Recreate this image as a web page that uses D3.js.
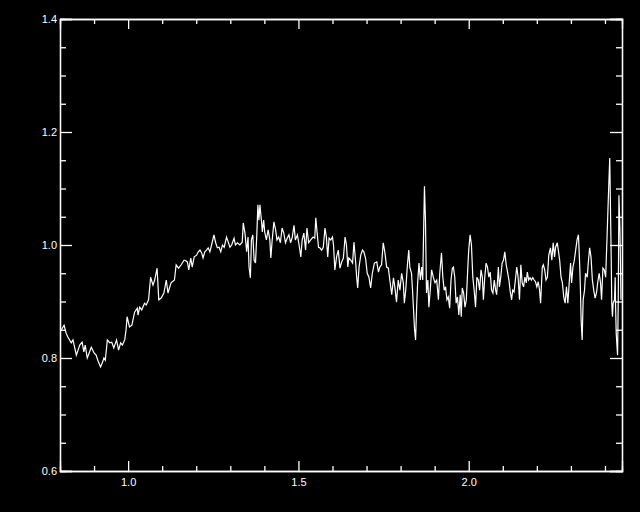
<!DOCTYPE html>
<html>
<head>
    <meta charset="utf-8">
    <script src="https://d3js.org/d3.v7.min.js"></script>
    <style>
        body {
            margin: 0;
            background: black;
        }
        svg {
            display: block;
        }
    </style>
</head>
<body>
    <svg width="640" height="512"></svg>

<script>

    // wavelength (x) and normalised flux (y)
    let wavelength = [
        0.804, 0.812, 0.818, 0.823, 0.833, 0.838, 0.843, 0.848, 0.853, 0.858,
        0.865, 0.870, 0.874, 0.880, 0.887, 0.892, 0.900, 0.906, 0.911, 0.919,
        0.924, 0.929, 0.933, 0.939, 0.946, 0.952, 0.958, 0.966, 0.972, 0.978,
        0.983, 0.990, 0.994, 0.997, 1.004, 1.011, 1.019, 1.027, 1.029, 1.034,
        1.040, 1.048, 1.053, 1.060, 1.066, 1.073, 1.078, 1.085, 1.090, 1.097,
        1.105, 1.112, 1.117, 1.126, 1.136, 1.141, 1.148, 1.156, 1.164,
        1.167, 1.174, 1.178, 1.184, 1.188, 1.194, 1.201, 1.206, 1.211, 1.216,
        1.220, 1.225, 1.230, 1.235, 1.240, 1.245, 1.252, 1.257, 1.262, 1.267,
        1.272, 1.277, 1.282, 1.289, 1.294, 1.299, 1.304, 1.311, 1.315, 1.321,
        1.328, 1.335, 1.338, 1.343, 1.348, 1.352, 1.355, 1.359, 1.362, 1.366,
        1.370, 1.374, 1.378, 1.381, 1.384, 1.387, 1.392, 1.394, 1.398, 1.401,
        1.406, 1.411, 1.416, 1.419, 1.423, 1.428, 1.433, 1.437, 1.442, 1.447,
        1.452, 1.457, 1.462, 1.467, 1.472, 1.477, 1.482, 1.487, 1.491, 1.497,
        1.502, 1.507, 1.511, 1.516, 1.521, 1.525, 1.530, 1.536, 1.543, 1.548,
        1.551, 1.555, 1.559, 1.563, 1.568, 1.573, 1.578, 1.582, 1.586, 1.590,
        1.595, 1.600, 1.603, 1.607, 1.612, 1.617, 1.622, 1.627, 1.632, 1.637,
        1.641, 1.645, 1.648, 1.654, 1.659, 1.663, 1.668, 1.671, 1.674, 1.678,
        1.683, 1.688, 1.692, 1.697, 1.702, 1.707, 1.712, 1.717, 1.723, 1.730,
        1.735, 1.739, 1.744, 1.749, 1.754, 1.759, 1.764, 1.769, 1.774, 1.779,
        1.783, 1.788, 1.793, 1.798, 1.803, 1.808, 1.811, 1.815, 1.820, 1.824,
        1.827, 1.832, 1.835, 1.838, 1.841, 1.844, 1.847, 1.850, 1.854, 1.858,
        1.862, 1.865, 1.870, 1.873, 1.876, 1.880, 1.883, 1.887, 1.891, 1.896,
        1.901, 1.906, 1.911, 1.915, 1.920,
        1.924, 1.928, 1.932, 1.936, 1.940, 1.944, 1.948, 1.952, 1.955, 1.959,
        1.963, 1.967, 1.971, 1.975, 1.978, 1.981, 1.985, 1.989, 1.993, 1.997,
        2.000, 2.004, 2.008, 2.012, 2.016, 2.020, 2.024, 2.028, 2.032, 2.036,
        2.040, 2.043, 2.047, 2.051, 2.055, 2.059, 2.063, 2.067, 2.071, 2.075,
        2.079, 2.082, 2.087, 2.090, 2.094, 2.098, 2.102, 2.106, 2.110, 2.114,
        2.118, 2.122, 2.126, 2.129, 2.133, 2.137, 2.141, 2.145, 2.149, 2.153,
        2.157, 2.161, 2.165, 2.169, 2.172, 2.176, 2.180, 2.184, 2.188, 2.192,
        2.196, 2.200, 2.204, 2.208, 2.211, 2.216, 2.219, 2.223, 2.227, 2.231,
        2.235,
        2.240, 2.244, 2.248, 2.252, 2.255, 2.260, 2.263, 2.267, 2.271, 2.275,
        2.279, 2.283, 2.287, 2.291, 2.295, 2.299, 2.302, 2.306, 2.310, 2.314,
        2.318, 2.322, 2.324, 2.326, 2.328, 2.330, 2.333, 2.336, 2.340, 2.343,
        2.348, 2.351, 2.355, 2.359, 2.363, 2.367, 2.371, 2.375, 2.379, 2.383,
        2.387, 2.390, 2.394, 2.398, 2.402, 2.406, 2.410, 2.414, 2.418, 2.420,
        2.422, 2.424, 2.428, 2.430, 2.431, 2.433, 2.436, 2.437, 2.439, 2.441,
        2.444, 2.447
    ]

    let flux = [
        0.850, 0.858, 0.844, 0.837, 0.827, 0.832, 0.819, 0.805, 0.814, 0.823,
        0.828, 0.811, 0.823, 0.800, 0.811, 0.819, 0.809, 0.805, 0.796, 0.784,
        0.791, 0.800, 0.796, 0.832, 0.827, 0.828, 0.818, 0.832, 0.814, 0.827,
        0.823, 0.832, 0.850, 0.873, 0.855, 0.858, 0.881, 0.888, 0.876, 0.890,
        0.885, 0.897, 0.894, 0.903, 0.943, 0.929, 0.938, 0.959, 0.903, 0.906,
        0.915, 0.938, 0.915, 0.933, 0.938, 0.965, 0.959, 0.965, 0.973,
        0.973, 0.970, 0.956, 0.977, 0.961, 0.979, 0.982, 0.988, 0.991, 0.986,
        0.977, 0.988, 0.991, 0.995, 0.988, 1.000, 1.018, 1.004, 0.995, 0.996,
        0.988, 1.000, 0.996, 1.014, 1.005, 0.996, 1.000, 1.012, 1.000, 1.004,
        1.000, 1.005, 1.039, 1.021, 0.988, 1.014, 0.961, 0.942, 1.009, 1.018,
        0.973, 0.968, 1.021, 1.071, 1.044, 1.071, 1.039, 1.023, 1.044, 1.023,
        1.009, 1.027, 1.009, 0.977, 1.009, 1.041, 1.027, 1.009, 1.014, 1.004,
        1.030, 1.021, 1.004, 1.012, 1.018, 1.004, 1.014, 1.035, 1.009, 1.018,
        1.000, 0.979, 1.009, 1.021, 0.991, 1.030, 1.004, 1.009, 1.014, 1.012,
        1.048, 1.021, 0.996, 0.995, 0.991, 0.996, 1.030, 1.014, 0.979, 1.012,
        1.009, 1.014, 1.000, 0.956, 0.979, 0.991, 0.959, 0.970, 0.977, 1.014,
        1.000, 0.961, 0.977, 0.973, 0.968, 1.005, 0.970, 0.943, 0.924, 0.961,
        0.982, 0.991, 0.988, 0.977, 0.950, 0.943, 0.924, 0.950, 0.968, 0.970,
        0.952, 0.961, 0.965, 1.004, 0.986, 0.961, 0.959, 0.935, 0.912, 0.942,
        0.926, 0.899, 0.938, 0.920, 0.950, 0.933, 0.897, 0.920, 0.965, 0.991,
        0.961, 0.950, 0.920, 0.885, 0.850, 0.832, 0.890, 0.933, 0.968, 0.938,
        0.961, 0.938, 1.104, 1.044, 0.915, 0.938, 0.890, 0.920, 0.956, 0.943,
        0.933, 0.938, 0.903, 0.950, 0.986,
        0.943, 0.920, 0.926, 0.903, 0.908, 0.888, 0.938, 0.959, 0.961, 0.943,
        0.897, 0.908, 0.876, 0.912, 0.873, 0.924, 0.915, 0.890, 0.903, 0.956,
        0.991, 1.018, 1.000, 0.943, 0.920, 0.890, 0.943, 0.938, 0.920, 0.956,
        0.943, 0.903, 0.942, 0.968, 0.961, 0.943, 0.952, 0.920, 0.915, 0.938,
        0.920, 0.912, 0.961, 0.926, 0.943, 0.968, 0.973, 0.988, 0.965, 0.952,
        0.938, 0.917, 0.903, 0.920, 0.917, 0.938, 0.961, 0.943, 0.903, 0.965,
        0.933, 0.926, 0.943, 0.933, 0.952, 0.938, 0.942, 0.938, 0.942, 0.938,
        0.935, 0.926, 0.935, 0.920, 0.897, 0.961, 0.965, 0.956, 0.938, 0.943,
        0.982,
        0.995, 0.973, 1.004, 0.979, 0.996, 1.004, 0.991, 0.973, 0.943, 0.933,
        0.908, 0.897, 0.926, 0.897, 0.933, 0.968, 0.933, 0.961, 0.973, 0.991,
        1.009, 1.018, 0.991, 0.961, 0.920, 0.867, 0.832, 0.903, 0.920, 0.950,
        0.943, 0.968, 0.995, 0.979, 0.938, 0.920, 0.906, 0.915, 0.935, 0.950,
        0.933, 0.903, 0.959, 0.956, 0.943, 1.012, 1.085, 1.154, 0.991, 0.897,
        0.873, 0.897, 0.903, 0.943, 0.897, 0.844, 0.814, 0.805, 0.903, 1.088,
        1.027, 0.903
    ]

    let xMajor = [1.0, 1.5, 2.0]
    let xMinor = [0.9, 1.1, 1.2, 1.3, 1.4, 1.6, 1.7, 1.8, 1.9, 2.1, 2.2, 2.3, 2.4]
    let yMajor = [0.6, 0.8, 1.0, 1.2, 1.4]
    let yMinor = [0.65, 0.7, 0.75, 0.85, 0.9, 0.95, 1.05, 1.1, 1.15, 1.25, 1.3, 1.35]

    let plotL = 60, plotR = 622, plotT = 19, plotB = 471

    let svg = d3.select("svg")

    let x = d3.scaleLinear()
        .domain([0.8, 2.45])
        .range([plotL, plotR])

    let y = d3.scaleLinear()
        .domain([0.6, 1.4])
        .range([plotB, plotT])

    let fmt = d3.format(".1f")

    // bottom / top axes
    svg.append("g")
        .attr("transform", `translate(0,${plotB})`)
        .call(d3.axisBottom(x).tickValues(xMajor).tickSize(-10).tickPadding(7).tickFormat(fmt))

    svg.append("g")
        .attr("transform", `translate(0,${plotB})`)
        .call(d3.axisBottom(x).tickValues(xMinor).tickSize(-5).tickFormat(""))

    svg.append("g")
        .attr("transform", `translate(0,${plotT})`)
        .call(d3.axisTop(x).tickValues(xMajor).tickSize(-10).tickFormat(""))

    svg.append("g")
        .attr("transform", `translate(0,${plotT})`)
        .call(d3.axisTop(x).tickValues(xMinor).tickSize(-5).tickFormat(""))

    // left / right axes
    svg.append("g")
        .attr("transform", `translate(${plotL},0)`)
        .call(d3.axisLeft(y).tickValues(yMajor).tickSize(-12).tickPadding(3).tickFormat(fmt))

    svg.append("g")
        .attr("transform", `translate(${plotL},0)`)
        .call(d3.axisLeft(y).tickValues(yMinor).tickSize(-6).tickFormat(""))

    svg.append("g")
        .attr("transform", `translate(${plotR},0)`)
        .call(d3.axisRight(y).tickValues(yMajor).tickSize(-12).tickFormat(""))

    svg.append("g")
        .attr("transform", `translate(${plotR},0)`)
        .call(d3.axisRight(y).tickValues(yMinor).tickSize(-6).tickFormat(""))

    svg.selectAll(".domain, .tick line")
        .attr("stroke", "white")
        .attr("stroke-width", 1.3)

    svg.selectAll(".tick text")
        .attr("fill", "white")
        .attr("font-family", "'Liberation Sans', Arial, sans-serif")
        .attr("font-size", "11px")

    // spectrum
    let pts = wavelength.map((w, i) => [w, flux[i]])

    let line = d3.line()
        .x(d => x(d[0]))
        .y(d => y(d[1]))

    svg.append("path")
        .datum(pts)
        .attr("d", line)
        .attr("fill", "none")
        .attr("stroke", "white")
        .attr("stroke-width", 1.2)

</script>
</body>
</html>
